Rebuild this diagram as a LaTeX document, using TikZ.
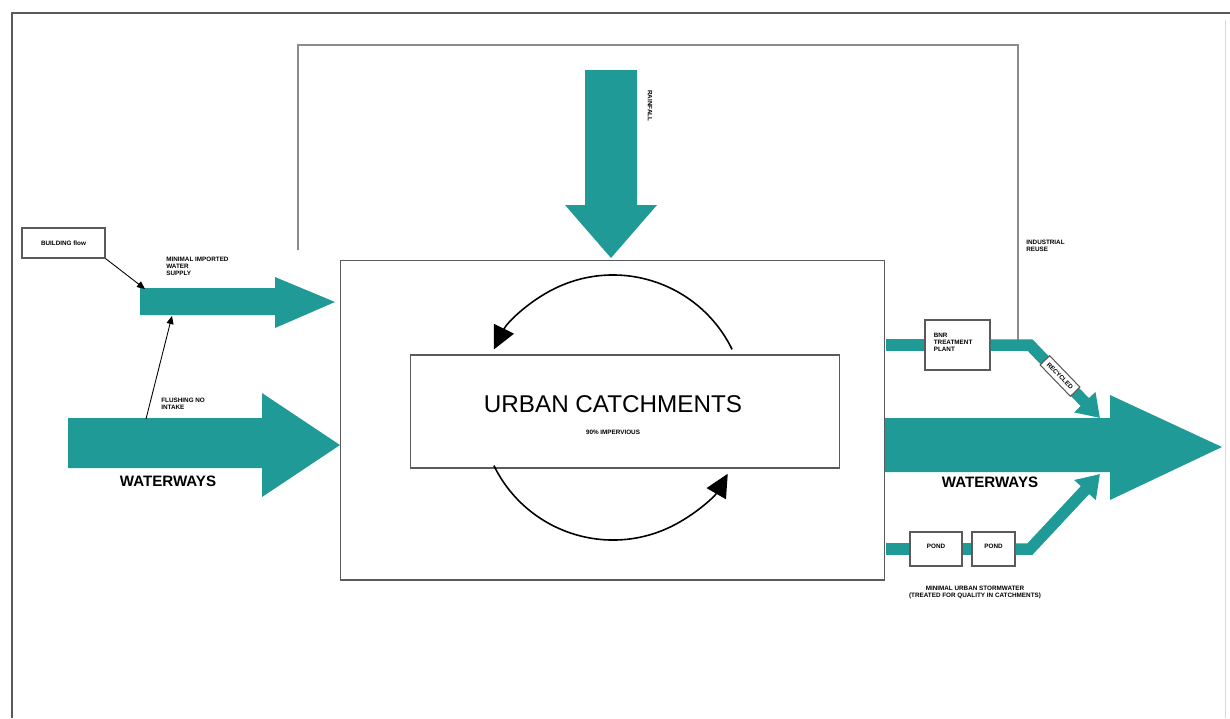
\documentclass[tikz,border=0pt]{standalone}
\usepackage{fontspec}
\setmainfont{Liberation Sans}
\usetikzlibrary{arrows.meta, positioning, calc}
\definecolor{flowteal}{HTML}{1F9A97}
\definecolor{frame}{HTML}{5A5A5A}

\begin{document}
\begin{tikzpicture}[
  x=0.02cm, y=-0.02cm,
  flow/.style={fill=flowteal, draw=none},
  pipe/.style={draw=flowteal, line width=2.3mm},
  pipetip/.style={pipe, -{Triangle[length=4.4mm, width=5.6mm]}},
  box/.style={draw=frame, line width=0.6pt, fill=white, inner sep=2pt},
  tiny/.style={font=\fontsize{3.6}{4}\selectfont\bfseries, align=left, inner sep=0pt},
  big/.style={font=\fontsize{8.6}{10}\selectfont\bfseries},
  cyc/.style={line width=0.9pt, -{Triangle[length=4.6mm, width=4.4mm]}},
  thin/.style={line width=0.5pt, -{Triangle[length=1.6mm, width=1.4mm]}},
]

% Background and frame
\useasboundingbox (0,0) rectangle (1230,718);
\draw[frame, line width=0.8pt] (12,718) -- (12,13) -- (1230,13);
\draw[black!15, line width=0.5pt] (1225,20) -- (1225,718);
\draw[frame!70, line width=0.6pt] (298,250) -- (298,45) -- (1018,45) -- (1018,345);

% === Main block ===
\node[draw=frame, line width=0.6pt, minimum width=10.9cm, minimum height=6.4cm] (catch) at (612.5,420) {};
\node[draw=frame, line width=0.6pt, minimum width=8.6cm, minimum height=2.26cm] (inner) at (625,411.5) {};
\node[font=\fontsize{13.8}{16}\selectfont] (title) at (613,404) {URBAN CATCHMENTS};
\node[tiny] (imperv) at (613,432) {90\% IMPERVIOUS};

% Cycle arrows
\coordinate (cc) at (613,407.5);
\draw[cyc] ($(cc)+(26:132.5 and -132.5)$) arc[start angle=26, end angle=154, x radius=132.5, y radius=-132.5];
\draw[cyc] ($(cc)+(206:132.5 and -132.5)$) arc[start angle=206, end angle=330, x radius=132.5, y radius=-132.5];

% === Rainfall ===
\fill[flow] (585,70) -- (637,70) -- (637,205) -- (657,205) -- (611,258) -- (565,205) -- (585,205) -- cycle;
\node[tiny, rotate=-90] (rain) at (650,106) {RAINFALL};

% === Left inflows ===
\fill[flow] (140,288) -- (275,288) -- (275,277) -- (335,302) -- (275,328) -- (275,315) -- (140,315) -- cycle;
\node[tiny, anchor=north west] (import) at (166,257) {MINIMAL IMPORTED\\WATER\\SUPPLY};
\coordinate (importin) at (145,289);
\coordinate (importlow) at (172,316);

\fill[flow] (68,418) -- (262,418) -- (262,393) -- (340,445) -- (262,497) -- (262,468) -- (68,468) -- cycle;
\node[big] (wwleft) at (168,481) {WATERWAYS};
\coordinate (flushout) at (146,419);
\node[tiny, anchor=north west] (flush) at (161,398) {FLUSHING NO\\INTAKE};

\node[box, minimum width=1.66cm, minimum height=0.6cm] (build) at (63.5,243) {};
\node[tiny] at (build) {BUILDING flow};
\draw[thin] (build.south east) -- (importin);
\draw[thin] (flushout) -- (importlow);

% === Right outflows ===
\fill[flow] (885,418) -- (1110,418) -- (1110,395) -- (1222,447) -- (1110,500) -- (1110,472) -- (885,472) -- cycle;
\node[big] (wwright) at (990,482) {WATERWAYS};

\node[box, minimum width=1.3cm, minimum height=1.0cm] (plant) at (957.5,345) {};
\node[tiny, anchor=north west] at ($(plant.north west)+(9,13)$) {BNR\\TREATMENT\\PLANT};
\coordinate (sewin) at (886,345);
\coordinate (reuse) at (1030,345);
\coordinate (recyend) at (1100,418);
\draw[pipe] (sewin) -- (plant.west);
\draw[pipetip] (plant.east) -- (reuse) -- (recyend);
\node[box, tiny, inner sep=2.5pt, rotate=-46] (recy) at (1060,376) {RECYCLED};
\node[tiny, anchor=north west] (indus) at (1026,240) {INDUSTRIAL\\REUSE};

\node[box, minimum width=1.04cm, minimum height=0.68cm] (pond1) at (936,549) {};
\node[tiny] at ($(pond1)+(0,-3)$) {POND};
\node[box, minimum width=0.86cm, minimum height=0.68cm] (pond2) at (993.5,549) {};
\node[tiny] at ($(pond2)+(0,-3)$) {POND};
\coordinate (stormin) at (886,549);
\coordinate (stormbend) at (1030,549);
\coordinate (stormend) at (1100,474);
\draw[pipe] (stormin) -- (pond1.west);
\draw[pipe] (pond1.east) -- (pond2.west);
\draw[pipetip] (pond2.east) -- (stormbend) -- (stormend);
\node[tiny, align=center] (storm) at (975,592) {MINIMAL URBAN STORMWATER\\(TREATED FOR QUALITY IN CATCHMENTS)};

\end{tikzpicture}
\end{document}
